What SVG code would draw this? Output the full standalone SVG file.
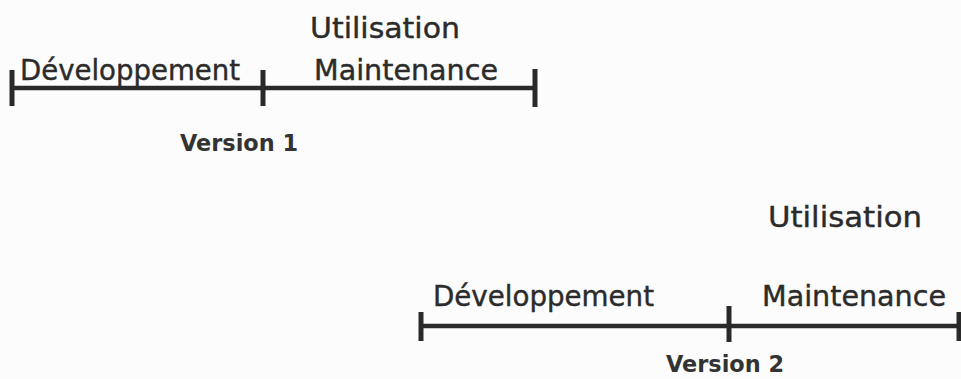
<svg xmlns="http://www.w3.org/2000/svg" width="961" height="379" viewBox="0 0 961 379">
  <style>
    .lbl { font-family: "DejaVu Sans", "Liberation Sans", sans-serif; font-size: 28px; fill: #2b2b2b; stroke: #2b2b2b; stroke-width: 0.4; }
    .ver { font-family: "DejaVu Sans", "Liberation Sans", sans-serif; font-size: 23px; font-weight: bold; fill: #333; }
    .axis { stroke: #2a2a2a; stroke-width: 4.5; fill: none; }
    .tick { stroke: #2a2a2a; stroke-width: 5; fill: none; }
  </style>
  <rect width="961" height="379" fill="#fcfcfc"/>

  <!-- timeline lines -->
  <g id="connectors">
    <line class="axis" x1="12" y1="88" x2="535" y2="88"/>
    <line class="axis" x1="421" y1="326" x2="961" y2="326"/>
  </g>

  <!-- first release -->
  <g id="v1-start"><line class="tick" x1="12" y1="70" x2="12" y2="106"/></g>
  <g id="v1-release"><line class="tick" x1="263" y1="70" x2="263" y2="106"/></g>
  <g id="v1-end"><line class="tick" x1="535" y1="69" x2="535" y2="107"/></g>
  <g id="v1-dev"><text class="lbl" x="20" y="80" textLength="220" lengthAdjust="spacingAndGlyphs">Développement</text></g>
  <g id="v1-use">
    <text class="lbl" x="310" y="38" textLength="150" lengthAdjust="spacingAndGlyphs">Utilisation</text>
    <text class="lbl" x="314" y="80" textLength="184" lengthAdjust="spacingAndGlyphs">Maintenance</text>
  </g>
  <g id="v1-label"><text class="ver" x="180" y="151" textLength="118" lengthAdjust="spacingAndGlyphs">Version 1</text></g>

  <!-- second release -->
  <g id="v2-start"><line class="tick" x1="421" y1="312" x2="421" y2="341"/></g>
  <g id="v2-release"><line class="tick" x1="729" y1="306" x2="729" y2="342"/></g>
  <g id="v2-end"><line class="tick" x1="959" y1="312" x2="959" y2="341"/></g>
  <g id="v2-dev"><text class="lbl" x="433" y="306" textLength="221" lengthAdjust="spacingAndGlyphs">Développement</text></g>
  <g id="v2-use">
    <text class="lbl" x="768" y="227" textLength="154" lengthAdjust="spacingAndGlyphs">Utilisation</text>
    <text class="lbl" x="762" y="306" textLength="184" lengthAdjust="spacingAndGlyphs">Maintenance</text>
  </g>
  <g id="v2-label"><text class="ver" x="666" y="372" textLength="118" lengthAdjust="spacingAndGlyphs">Version 2</text></g>
</svg>
